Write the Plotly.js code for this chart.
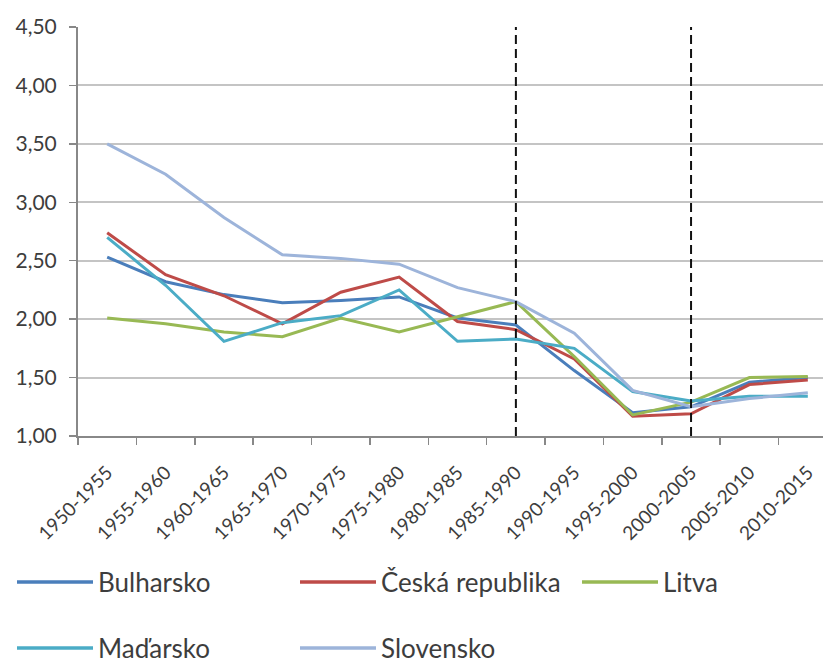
<!DOCTYPE html>
<html>
<head>
<meta charset="utf-8">
<script src="https://cdn.plot.ly/plotly-3.0.1.min.js"></script>
<style>html,body{margin:0;padding:0;background:#fff;}#chart{width:823px;height:663px;}</style>
</head>
<body>
<div id="chart"></div>
<script>
var categories = ['1950-1955','1955-1960','1960-1965','1965-1970','1970-1975','1975-1980','1980-1985','1985-1990','1990-1995','1995-2000','2000-2005','2005-2010','2010-2015'];
var bulharsko = [2.53, 2.32, 2.21, 2.14, 2.16, 2.19, 2.01, 1.95, 1.56, 1.20, 1.25, 1.46, 1.50];
var ceskaRepublika = [2.74, 2.38, 2.20, 1.96, 2.23, 2.36, 1.98, 1.91, 1.66, 1.17, 1.19, 1.44, 1.48];
var litva = [2.01, 1.96, 1.89, 1.85, 2.01, 1.89, 2.02, 2.15, 1.68, 1.18, 1.29, 1.50, 1.51];
var madarsko = [2.70, 2.29, 1.81, 1.97, 2.03, 2.25, 1.81, 1.83, 1.75, 1.38, 1.30, 1.34, 1.34];
var slovensko = [3.50, 3.24, 2.87, 2.55, 2.52, 2.47, 2.27, 2.15, 1.88, 1.39, 1.25, 1.32, 1.37];
var seriesNames = ['Bulharsko', 'Česká republika', 'Litva', 'Maďarsko', 'Slovensko'];
var markedPeriods = ['1985-1990', '2000-2005'];

var seriesValues = [bulharsko, ceskaRepublika, litva, madarsko, slovensko];
var colors = ['#4a7ebb', '#be4b48', '#98b954', '#4bacc6', '#9db4da'];

var traces = seriesValues.map(function (vals, i) {
  return {
    type: 'scatter', mode: 'lines', name: seriesNames[i],
    x: categories, y: vals,
    line: {color: colors[i], width: 3},
    showlegend: false, hoverinfo: 'x+y+name'
  };
});

var L = 78, R = 823, T = 27, B = 436;
function px(x) { return (x - L) / (R - L); }
function py(y) { return (B - y) / (B - T); }

var shapes = markedPeriods.map(function (c) {
  return {type: 'line', xref: 'x', yref: 'paper', x0: c, x1: c, y0: 0, y1: 1,
          line: {color: '#111', width: 2, dash: '9px,5px'}};
});
var annotations = [];
var legendPos = [[17, 582], [300, 582], [582, 582], [17, 648], [300, 648]];
seriesNames.forEach(function (n, i) {
  var p = legendPos[i];
  shapes.push({type: 'line', xref: 'paper', yref: 'paper',
    x0: px(p[0]), x1: px(p[0] + 76), y0: py(p[1]), y1: py(p[1]),
    line: {color: colors[i], width: 3.5}});
  annotations.push({xref: 'paper', yref: 'paper', x: px(p[0] + 79), y: py(p[1]),
    xanchor: 'left', yanchor: 'middle', showarrow: false, text: n,
    font: {family: 'Lato, sans-serif', size: 26, color: '#3d3d3d'}});
});

var layout = {
  width: 823, height: 663,
  margin: {l: L, r: 0, t: T, b: 663 - B, pad: 0},
  paper_bgcolor: '#fff', plot_bgcolor: '#fff',
  separators: ', ',
  showlegend: false,
  font: {family: 'Lato, sans-serif', color: '#3d3d3d'},
  xaxis: {
    type: 'category', range: [-0.5, 12.26],
    tickson: 'boundaries', ticks: 'outside', ticklen: 7, tickwidth: 1.5, tickcolor: '#888',
    showline: true, linecolor: '#888', linewidth: 2,
    showgrid: false, zeroline: false,
    ticklabelstandoff: 16,
    tickangle: -45, tickfont: {family: 'Lato, sans-serif', size: 19, color: '#3d3d3d'}
  },
  yaxis: {
    range: [1, 4.5], tickvals: [1, 1.5, 2, 2.5, 3, 3.5, 4, 4.5], tickformat: '.2f',
    ticks: 'outside', ticklen: 7, tickwidth: 1.5, tickcolor: '#888',
    showline: true, linecolor: '#888', linewidth: 2,
    showgrid: true, gridcolor: '#c4c4c4', gridwidth: 2, zeroline: false,
    ticklabelstandoff: 8,
    tickfont: {family: 'Lato, sans-serif', size: 21, color: '#3d3d3d'}
  },
  shapes: shapes,
  annotations: annotations
};

Plotly.newPlot('chart', traces, layout, {displayModeBar: false, staticPlot: true});
</script>
</body>
</html>
